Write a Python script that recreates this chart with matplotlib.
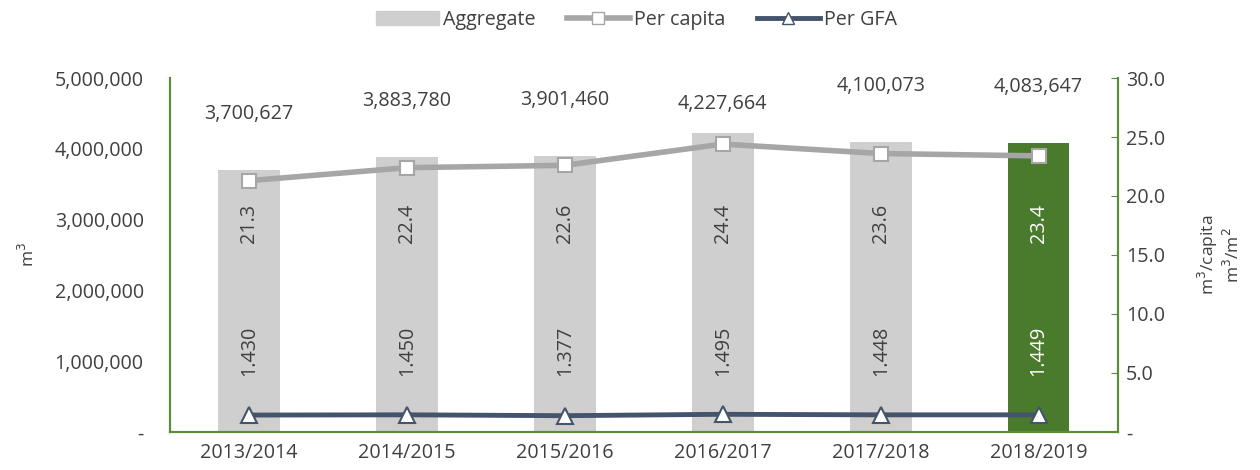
import matplotlib
matplotlib.use("Agg")
import matplotlib.pyplot as plt
from matplotlib.ticker import FuncFormatter
from matplotlib.lines import Line2D
from matplotlib.patches import Patch

plt.rcParams["font.family"] = ["Open Sans", "DejaVu Sans"]

years = ["2013/2014", "2014/2015", "2015/2016", "2016/2017", "2017/2018", "2018/2019"]
aggregate = [3700627, 3883780, 3901460, 4227664, 4100073, 4083647]
per_capita = [21.3, 22.4, 22.6, 24.4, 23.6, 23.4]
per_gfa = [1.430, 1.450, 1.377, 1.495, 1.448, 1.449]

TEXT = "#404040"
GREEN = "#4a7a2c"
SPINE = "#5b8c3a"
BAR = "#d0cfcf"
CAP = "#a6a6a6"
GFA = "#44546a"
FS = 14.2

fig = plt.figure(figsize=(12.6, 4.7), dpi=100)
ax = fig.add_axes([0.135, 0.081, 0.752, 0.753])
ax2 = ax.twinx()

x = list(range(len(years)))
colors = [BAR] * (len(years) - 1) + [GREEN]
ax.bar(x, aggregate, width=0.39, color=colors, zorder=1)

ax.set_ylim(0, 5000000)
ax.set_xlim(-0.5, len(years) - 0.5)
ax.set_yticks(range(0, 5000001, 1000000))
ax.yaxis.set_major_formatter(FuncFormatter(lambda v, p: "-" if v == 0 else f"{int(v):,}"))
ax.set_xticks(x)
ax.set_xticklabels(years)
ax.tick_params(axis="both", length=0, labelsize=FS, colors=TEXT, pad=8)
ax.tick_params(axis="y", pad=19)
ax.set_ylabel("m$^3$", fontsize=12.5, color=TEXT, labelpad=12)

ax2.set_ylim(0, 30)
ax2.set_yticks(range(0, 31, 5))
ax2.yaxis.set_major_formatter(FuncFormatter(lambda v, p: "-" if v == 0 else f"{v:.1f}"))
ax2.tick_params(axis="y", direction="in", length=5, color=SPINE, labelsize=FS,
                labelcolor=TEXT, pad=6)
ax2.set_ylabel("m$^3$/capita\nm$^3$/m$^2$", fontsize=12.5, color=TEXT, labelpad=22,
               rotation=90)

for a in (ax, ax2):
    a.spines["top"].set_visible(False)
    for s in ("left", "right", "bottom"):
        a.spines[s].set_color(SPINE)
        a.spines[s].set_linewidth(1.5)

ax2.plot(x, per_capita, color=CAP, lw=4, marker="s", ms=10, mfc="white",
         mec=CAP, mew=1.5, zorder=3)
ax2.plot(x, per_gfa, color=GFA, lw=3.5, marker="^", ms=11, mfc="white",
         mec=GFA, mew=1.5, zorder=3)

# value labels
label_offsets = [40, 40, 40, 21, 40, 40]
for i, v in enumerate(aggregate):
    ax.annotate(f"{v:,}", (i, v), xytext=(0, label_offsets[i]), textcoords="offset points",
                ha="center", va="center", fontsize=FS, color=TEXT)
    inner = "white" if i == len(years) - 1 else TEXT
    ax.text(i, 2950000, f"{per_capita[i]:.1f}", rotation=90, ha="center", va="center",
            fontsize=FS, color=inner, zorder=4)
    ax.text(i, 1140000, f"{per_gfa[i]:.3f}", rotation=90, ha="center", va="center",
            fontsize=FS, color=inner, zorder=4)

handles = [
    Patch(color=BAR),
    Line2D([], [], color=CAP, lw=4, marker="s", ms=8, mfc="white", mec=CAP),
    Line2D([], [], color=GFA, lw=3.5, marker="^", ms=8, mfc="white", mec=GFA),
]
fig.legend(handles, ["Aggregate", "Per capita", "Per GFA"], loc="center",
           bbox_to_anchor=(0.505, 0.958), ncol=3, frameon=False, fontsize=FS,
           handlelength=3.2, handletextpad=0.2, columnspacing=1.6, labelcolor=TEXT)

fig.savefig("out.png", dpi=100)
